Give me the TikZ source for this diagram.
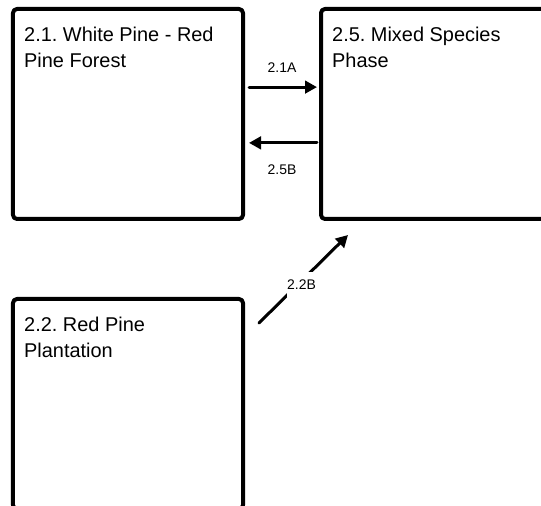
\documentclass[tikz,border=0pt]{standalone}
\usepackage{fontspec}
\setmainfont{Liberation Sans}
\frenchspacing
\usetikzlibrary{arrows.meta}

\begin{document}
\begin{tikzpicture}[line cap=round,line join=round,>={Triangle[length=12bp,width=12.5bp]},x=1bp,y=1bp,
  phase/.style={draw,line width=4bp,rounded corners=4bp,minimum width=230bp,minimum height=210bp,inner sep=0pt,outer sep=0pt},
  title/.style={anchor=north west,align=left,inner sep=0pt,font=\fontsize{20}{26}\selectfont},
  flow/.style={->,line width=3bp},
  lbl/.style={font=\fontsize{14}{16}\selectfont,inner sep=0pt}]
\useasboundingbox (0,0) rectangle (541,506);
\clip (0,0) rectangle (541,506);
\node[phase] (wp) at (128,392) {};
\node[phase] (mx) at (436,392) {};
\node[phase] (rp) at (128,102) {};
\node[title] (wpt) at ([shift={(11,-18)}]wp.north west) {2.1. White Pine - Red\\Pine Forest};
\node[title] (mxt) at ([shift={(11,-18)}]mx.north west) {2.5. Mixed Species\\Phase};
\node[title] (rpt) at ([shift={(11,-18)}]rp.north west) {2.2. Red Pine\\Plantation};
\draw[flow,shorten <=6bp,shorten >=4bp] ([yshift=27]wp.east) -- node[lbl,yshift=20] (a21) {2.1A} ([yshift=27]mx.west);
\draw[flow,shorten <=4bp,shorten >=6bp] ([yshift=-29]mx.west) -- node[lbl,yshift=-27] (b25) {2.5B} ([yshift=-29]wp.east);
\draw[flow] ([shift={(16,-24)}]rp.north east) -- node[lbl,fill=white,inner ysep=8bp,shift={(-2,-6)}] (b22) {2.2B} ([shift={(27,-16)}]mx.south west);
\end{tikzpicture}
\end{document}
